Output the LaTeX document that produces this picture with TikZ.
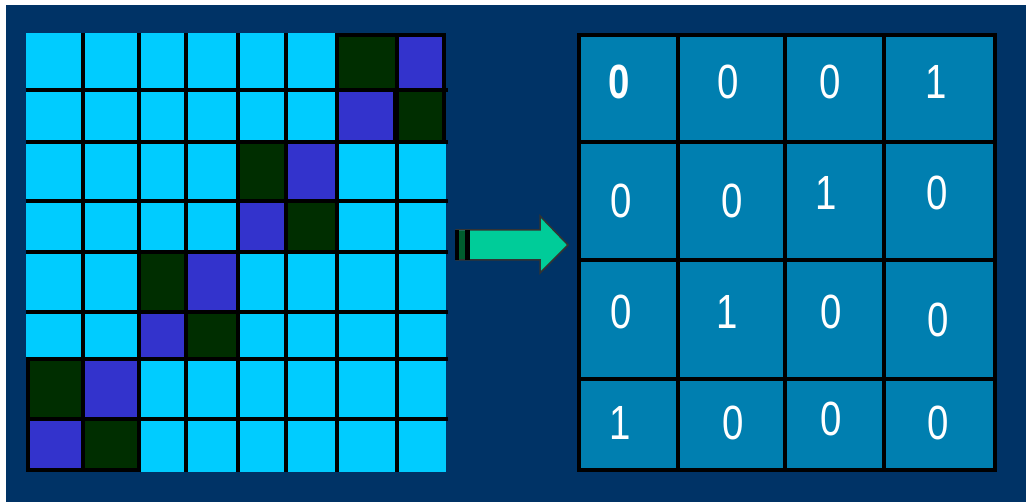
\documentclass[tikz,border=0pt]{standalone}
\usepackage{fontspec}
\setmainfont{Liberation Sans}
\usetikzlibrary{positioning}
\definecolor{navy}{HTML}{003366}
\definecolor{cellcyan}{HTML}{00CCFF}
\definecolor{cellgreen}{HTML}{002E00}
\definecolor{cellblue}{HTML}{3333CC}
\definecolor{cellteal}{HTML}{007FB0}
\definecolor{arrowgreen}{HTML}{00CC99}

\begin{document}
\begin{tikzpicture}[x=1pt, y=-1pt,
    gridline/.style={black, line width=4pt},
    greencell/.style={fill=cellgreen, draw=black, line width=4pt},
    bluecell/.style={fill=cellblue, draw=black, line width=4pt},
    digit/.style={text=white, font=\fontsize{48}{48}\selectfont, inner sep=0pt, xscale=0.8}
]
    \useasboundingbox (0,0) rectangle (1026,502);
    \fill[white] (0,0) rectangle (1026,502);
    \fill[navy] (6,5) rectangle (1026,502);

    % left grid (8x8)
    \fill[cellcyan] (26,33) rectangle (446,472);
    \foreach \x in {83,139,186,238,286,337,397}
        \draw[gridline] (\x,33) -- (\x,472);
    \foreach \y in {90,142,201,252,312,359,419}
        \draw[gridline] (26,\y) -- (448,\y);
    \foreach \xa/\ya/\xb/\yb in {337/35/397/90, 397/90/444/142, 238/142/286/201, 286/201/337/252,
                                 139/252/186/312, 186/312/238/359, 28/359/83/419, 83/419/139/470}
        \draw[greencell] (\xa,\ya) rectangle (\xb,\yb);
    \foreach \xa/\ya/\xb/\yb in {397/35/444/90, 337/90/395/142, 286/142/337/201, 238/201/286/252,
                                 186/252/238/312, 139/312/186/359, 83/359/139/419, 28/419/83/470}
        \draw[bluecell] (\xa,\ya) rectangle (\xb,\yb);

    % arrow
    \draw[fill=arrowgreen, draw=black!80, line width=1.5pt]
        (456,230) -- (540,230) -- (540,216) -- (568,245) -- (540,273) -- (540,260) -- (456,260) -- cycle;
    \fill[black] (455,230) rectangle (459,260);
    \fill[cellgreen!70!arrowgreen] (459,231) rectangle (465,259);
    \fill[black] (465,230) rectangle (470,260);

    % right grid (4x4)
    \fill[cellteal] (579,35) rectangle (995,470);
    \foreach \x in {678,785,884}
        \draw[gridline] (\x,35) -- (\x,470);
    \foreach \y in {142,260,379}
        \draw[gridline] (579,\y) -- (995,\y);
    \draw[gridline] (579,35) rectangle (995,470);

    \node[digit, font=\fontsize{48}{48}\selectfont\bfseries] (m11) at (619,82) {0};
    \foreach \r/\c/\x/\y/\v in {1/2/728/82/0, 1/3/830/82/0, 1/4/936/82/1,
                                2/1/621/201/0, 2/2/732/201/0, 2/3/826/193/1, 2/4/937/193/0,
                                3/1/621/312/0, 3/2/727/312/1, 3/3/831/312/0, 3/4/938/320/0,
                                4/1/620/423/1, 4/2/733/423/0, 4/3/831/419/0, 4/4/938/423/0}
        \node[digit] (m\r\c) at (\x,\y) {\v};
\end{tikzpicture}
\end{document}
